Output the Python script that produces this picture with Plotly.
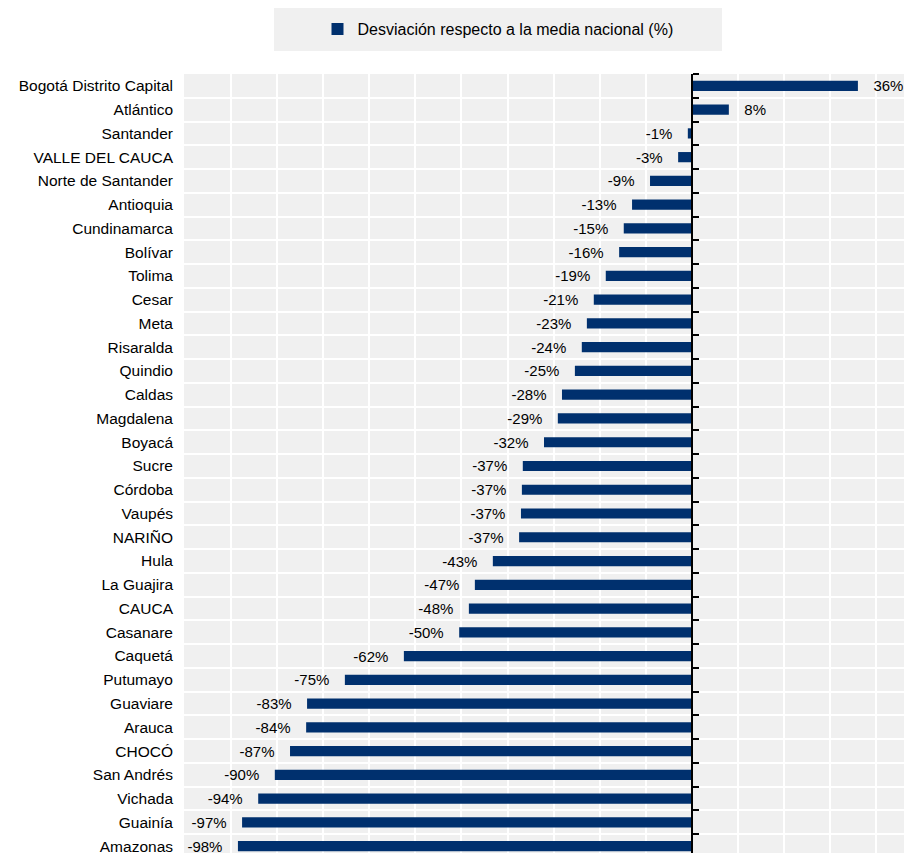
import plotly.graph_objects as go

categories = ["Bogotá Distrito Capital", "Atlántico", "Santander", "VALLE DEL CAUCA",
              "Norte de Santander", "Antioquia", "Cundinamarca", "Bolívar", "Tolima",
              "Cesar", "Meta", "Risaralda", "Quindio", "Caldas", "Magdalena", "Boyacá",
              "Sucre", "Córdoba", "Vaupés", "NARIÑO", "Hula", "La Guajira", "CAUCA",
              "Casanare", "Caquetá", "Putumayo", "Guaviare", "Arauca", "CHOCÓ",
              "San Andrés", "Vichada", "Guainía", "Amazonas"]
values = [36.0, 8.0, -0.9, -3.0, -9.1, -13.0, -14.8, -15.8, -18.7, -21.3, -22.8, -23.9,
          -25.4, -28.2, -29.1, -32.1, -36.7, -36.9, -37.1, -37.5, -43.2, -47.1, -48.4,
          -50.5, -62.5, -75.3, -83.5, -83.7, -87.2, -90.5, -94.1, -97.6, -98.5]
labels = ["36%", "8%", "-1%", "-3%", "-9%", "-13%", "-15%", "-16%", "-19%", "-21%", "-23%",
          "-24%", "-25%", "-28%", "-29%", "-32%", "-37%", "-37%", "-37%", "-37%", "-43%",
          "-47%", "-48%", "-50%", "-62%", "-75%", "-83%", "-84%", "-87%", "-90%", "-94%",
          "-97%", "-98%"]
series_name = "Desviación respecto a la media nacional (%)"

FONT = "Liberation Sans, Arial, sans-serif"
NAVY = "#00306e"
PAD = "\u00a0\u00a0\u00a0"

idx = list(range(len(categories)))
texts = [(PAD + t) if v >= 0 else (t + PAD) for t, v in zip(labels, values)]

XMIN, XMAX = -110.2, 47.3
zero_pos = (0 - XMIN) / (XMAX - XMIN)
YRANGE = [32.29, -0.5]

fig = go.Figure()
fig.add_trace(go.Bar(
    x=values, y=idx, orientation="h", name=series_name,
    marker=dict(color=NAVY, line=dict(width=0)),
    text=texts, textposition="outside", cliponaxis=False, constraintext="none",
    textfont=dict(family=FONT, size=15, color="#000000"),
    hoverinfo="skip",
))
# invisible helper trace to draw the zero axis line
fig.add_trace(go.Scatter(x=[0], y=[0], yaxis="y2", mode="markers",
                         marker=dict(opacity=0), showlegend=False, hoverinfo="skip"))

fig.update_layout(
    width=904, height=852,
    margin=dict(l=176, r=2, t=66, b=7, autoexpand=False),
    paper_bgcolor="white", plot_bgcolor="#f0f0f0",
    font=dict(family=FONT, size=15, color="#000000"),
    bargap=0.57,
    showlegend=True,
    legend=dict(orientation="h", x=0.4325, xanchor="center", y=1.0575, yanchor="middle",
                bgcolor="rgba(0,0,0,0)", font=dict(family=FONT, size=16, color="#000000"),
                itemwidth=30),
    xaxis=dict(range=[XMIN, XMAX], tick0=0, dtick=10, showgrid=True, gridcolor="white",
               gridwidth=2, zeroline=False, showticklabels=False, ticks="", showline=False),
    yaxis=dict(range=YRANGE, tickmode="array", tickvals=idx, ticktext=categories,
               showgrid=False, zeroline=False, ticks="", showline=False,
               ticklabeloverflow="allow",
               ticklabelstandoff=10, tickfont=dict(family=FONT, size=15.5, color="#000000"),
               minor=dict(tick0=0.5, dtick=1, showgrid=True, gridcolor="white", gridwidth=2)),
    yaxis2=dict(range=YRANGE, overlaying="y", anchor="free", position=zero_pos, side="right",
                showgrid=False, zeroline=False, showticklabels=False,
                showline=True, linecolor="#000000", linewidth=2,
                ticks="outside", ticklen=6, tickwidth=2, tickcolor="#000000",
                tickmode="linear", tick0=-0.5, dtick=1),
    shapes=[dict(type="rect", xref="paper", yref="paper", x0=0.124, x1=0.741,
                 y0=1.0295, y1=1.0847, fillcolor="#f0f0f0", line=dict(width=0), layer="below")],
)

fig.write_html("out.html")
